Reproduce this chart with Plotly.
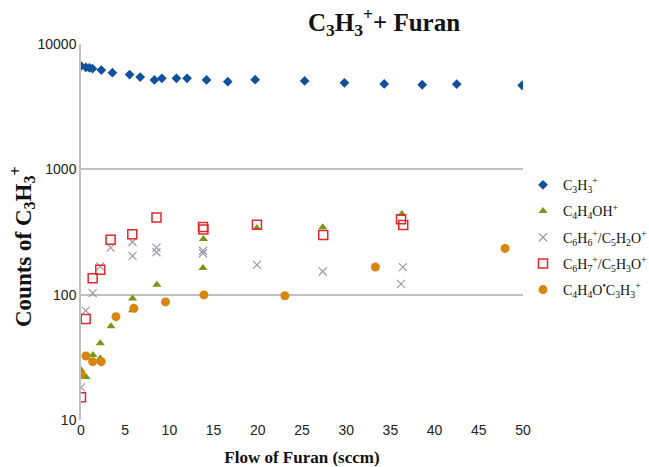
import plotly.graph_objects as go

# C3H3+
x_c3h3 = [0, 0.56, 0.95, 1.3, 2.3, 3.55, 5.5, 6.7, 8.3, 9.15, 10.8, 12.0, 14.2, 16.6, 19.7, 25.3, 29.8, 34.3, 38.6, 42.5, 49.9]
y_c3h3 = [6700, 6500, 6450, 6350, 6200, 5900, 5700, 5450, 5170, 5320, 5320, 5320, 5170, 5000, 5190, 5070, 4900, 4800, 4730, 4780, 4680]

# C4H4OH+
x_c4h4oh = [0, 0.56, 1.35, 2.18, 2.18, 3.39, 5.83, 5.83, 8.58, 13.85, 13.8, 19.9, 27.35, 36.3]
y_c4h4oh = [25, 22, 33, 41, 31, 56, 93, 75, 120, 278, 163, 340, 345, 440]

# C6H6+/C5H2O+
x_c6h6 = [0, 0.53, 1.32, 2.18, 3.35, 5.83, 5.83, 8.54, 8.54, 13.8, 13.8, 19.9, 27.35, 36.4, 36.2]
y_c6h6 = [18.2, 74.5, 103, 168, 237, 263, 204, 237, 218, 224, 214, 173, 153, 166, 122]

# C6H7+/C5H3O+
x_c6h7 = [0, 0.53, 1.32, 2.18, 3.35, 5.8, 8.54, 13.8, 13.85, 19.9, 27.4, 36.2, 36.45]
y_c6h7 = [15.2, 64, 135, 158, 274, 303, 412, 347, 331, 362, 299, 400, 360]

# C4H4O*C3H3+
x_c7h7o = [0, 0.56, 1.32, 2.29, 3.95, 5.98, 9.56, 13.9, 23.06, 33.3, 47.97]
y_c7h7o = [23.3, 32.4, 29.2, 29.2, 66.8, 77.8, 87.5, 99.6, 98, 166, 234]

y_ticks = [10, 100, 1000, 10000]
y_ticktext = ["10", "100", "1000", "10000"]
x_ticks = [0, 5, 10, 15, 20, 25, 30, 35, 40, 45, 50]

names = [
    "C<sub>3</sub>H<sub>3</sub><sup>+</sup>",
    "C<sub>4</sub>H<sub>4</sub>OH<sup>+</sup>",
    "C<sub>6</sub>H<sub>6</sub><sup>+</sup>/C<sub>5</sub>H<sub>2</sub>O<sup>+</sup>",
    "C<sub>6</sub>H<sub>7</sub><sup>+</sup>/C<sub>5</sub>H<sub>3</sub>O<sup>+</sup>",
    "C<sub>4</sub>H<sub>4</sub>O<sup>•</sup>C<sub>3</sub>H<sub>3</sub><sup>+</sup>",
]

fig = go.Figure()
fig.add_trace(go.Scatter(x=x_c3h3, y=y_c3h3, mode="markers", name=names[0], legendgroup="a",
                         marker=dict(symbol="diamond", size=7.5, color="#10509c")))
fig.add_trace(go.Scatter(x=x_c4h4oh, y=y_c4h4oh, mode="markers", name=names[1], legendgroup="b",
                         marker=dict(symbol="triangle-up", size=8, color="#7a9616")))
fig.add_trace(go.Scatter(x=x_c6h6, y=y_c6h6, mode="markers", name=names[2], legendgroup="c",
                         marker=dict(symbol="x-thin-open", size=8, color="#9a9aaa",
                                     line=dict(width=1.2, color="#9a9aaa"))))
fig.add_trace(go.Scatter(x=x_c6h7, y=y_c6h7, mode="markers", name=names[3], legendgroup="d",
                         marker=dict(symbol="square-open", size=9, color="#e0282c",
                                     line=dict(width=1.5, color="#e0282c"))))
fig.add_trace(go.Scatter(x=x_c7h7o, y=y_c7h7o, mode="markers", name=names[4], legendgroup="e",
                         marker=dict(symbol="circle", size=9, color="#d8860e")))

fig.update_layout(
    width=649, height=467,
    margin=dict(l=81, r=126, t=44, b=47, autoexpand=False),
    paper_bgcolor="white", plot_bgcolor="white",
    title=dict(text="<b>C<sub>3</sub>H<sub>3</sub><sup>+</sup>+ Furan</b>",
               x=384 / 649, xref="container", xanchor="center",
               y=1 - 22 / 467, yref="container", yanchor="middle",
               font=dict(family="Liberation Serif", size=25, color="#111")),
    showlegend=True,
    legend=dict(x=1.0, xanchor="left", y=0.667, yanchor="top",
                font=dict(family="Liberation Serif", size=14, color="#111"),
                tracegroupgap=5, bgcolor="rgba(0,0,0,0)", itemsizing="trace",
                itemwidth=30),
    xaxis=dict(range=[0, 50], tickvals=x_ticks, showgrid=False, zeroline=False,
               showline=False, ticks="",
               tickfont=dict(family="Liberation Sans", size=14, color="#222"),
               title=dict(text="<b>Flow of Furan (sccm)</b>", standoff=15,
                          font=dict(family="Liberation Serif", size=17, color="#111"))),
    yaxis=dict(type="log", range=[1, 4], tickvals=y_ticks, ticktext=y_ticktext,
               showgrid=True, gridcolor="#c0c0c0", gridwidth=1.5,
               zeroline=False, showline=True, linecolor="#c0c0c0", linewidth=1.5,
               ticks="",
               tickfont=dict(family="Liberation Sans", size=14, color="#222")),
    annotations=[dict(text="<b>Counts of C<sub>3</sub>H<sub>3</sub><sup>+</sup></b>",
                      textangle=-90, xref="paper", yref="paper",
                      x=(22 - 81) / 442, y=(420 - 247) / 376,
                      xanchor="center", yanchor="middle", showarrow=False,
                      font=dict(family="Liberation Serif", size=23, color="#111"))],
)

fig.write_html("out.html")
